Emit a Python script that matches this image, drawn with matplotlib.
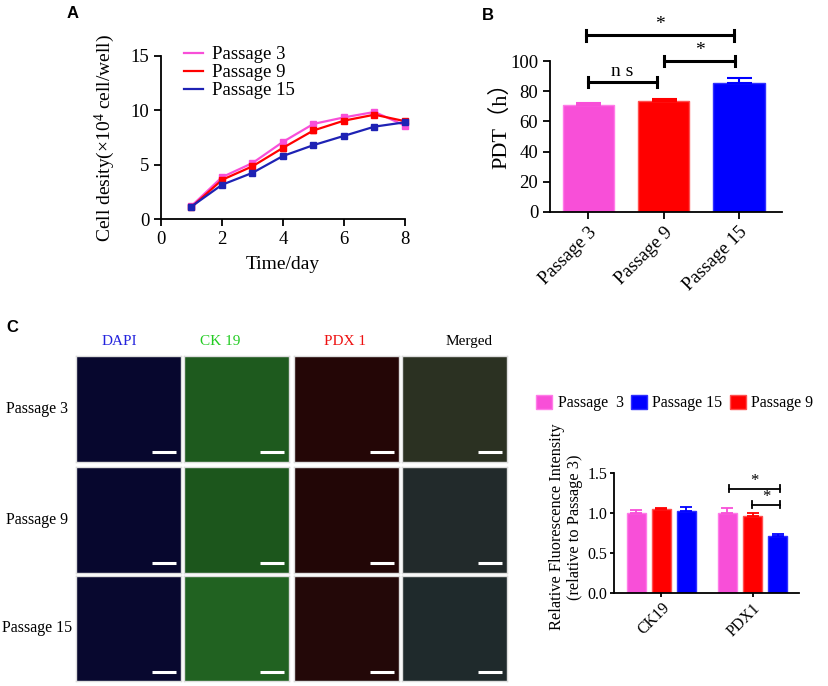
import numpy as np
import matplotlib
matplotlib.use("Agg")
import matplotlib.pyplot as plt
from matplotlib.patches import Patch
from matplotlib.lines import Line2D

plt.rcParams["font.family"] = ["Liberation Serif", "Noto Sans CJK SC", "DejaVu Sans"]
plt.rcParams["mathtext.fontset"] = "custom"
plt.rcParams["mathtext.rm"] = "Liberation Serif"
plt.rcParams["mathtext.it"] = "Liberation Serif:italic"

# -----------------------------------------------------------
# Data
# -----------------------------------------------------------
days = [1, 2, 3, 4, 5, 6, 7, 8]
p3_density = [1.2, 3.85, 5.15, 7.1, 8.75, 9.35, 9.85, 8.6]
p9_density = [1.1, 3.6, 4.85, 6.55, 8.15, 9.05, 9.6, 9.0]
p15_density = [1.15, 3.15, 4.25, 5.8, 6.8, 7.65, 8.5, 8.9]
p3_err = [0.1, 0.15, 0.15, 0.2, 0.15, 0.15, 0.15, 0.15]
p9_err = [0.1, 0.15, 0.15, 0.3, 0.25, 0.15, 0.15, 0.15]
p15_err = [0.1, 0.15, 0.15, 0.15, 0.2, 0.15, 0.15, 0.15]

pdt_labels = ["Passage 3", "Passage 9", "Passage 15"]
pdt_values = [71.0, 73.5, 85.5]
pdt_err = [1.5, 1.5, 3.5]

fl_markers = ["CK19", "PDX1"]
fl_p3 = [1.0, 1.0]
fl_p9 = [1.05, 0.965]
fl_p15 = [1.03, 0.717]
fl_p3_err = [0.035, 0.057]
fl_p9_err = [0.015, 0.03]
fl_p15_err = [0.047, 0.016]

stain_names = ["DAPI", "CK 19", "PDX 1", "Merged"]
row_names = ["Passage 3", "Passage 9", "Passage 15"]

# -----------------------------------------------------------
# Figure / helpers
# -----------------------------------------------------------
W, H = 829, 686
fig = plt.figure(figsize=(W / 100, H / 100), dpi=100)


def ax_px(l, t, r, b):
    return fig.add_axes([l / W, 1 - b / H, (r - l) / W, (b - t) / H])


def ftext(x, y, s, **kw):
    fig.text(x / W, 1 - y / H, s, **kw)


pink = "#F84FD8"
red = "#FF0000"
blue_line = "#1E22B4"
blue = "#0000FF"
bar_cols = [pink, red, blue]
bar_edges = ["#FF7BE8", "#FF5050", "#3030FF"]


def style_axes(ax, size):
    for side in ["top", "right"]:
        ax.spines[side].set_visible(False)
    for side in ["left", "bottom"]:
        ax.spines[side].set_linewidth(1.3)
    ax.tick_params(direction="out", width=1.3, length=5, labelsize=size)


def bracket(ax, x0, x1, y, h, txt, size, lw, dy):
    ax.plot([x0, x1], [y, y], color="black", lw=lw, clip_on=False)
    ax.plot([x0, x0], [y - h, y + h], color="black", lw=lw, clip_on=False)
    ax.plot([x1, x1], [y - h, y + h], color="black", lw=lw, clip_on=False)
    ax.text((x0 + x1) / 2, y + dy, txt, ha="center", va="bottom",
            fontsize=size, clip_on=False)


# -----------------------------------------------------------
# A - growth curves
# -----------------------------------------------------------
axA = ax_px(161, 56, 405, 219)
for vals, err, col in [(p3_density, p3_err, pink),
                       (p9_density, p9_err, red),
                       (p15_density, p15_err, blue_line)]:
    axA.errorbar(days, vals, yerr=err, color=col, lw=1.6, marker="s", ms=4,
                 capsize=2, elinewidth=1.2, clip_on=False)
axA.set_xlim(0, 8)
axA.set_ylim(0, 15)
axA.set_xticks([0, 2, 4, 6, 8])
axA.set_yticks([0, 5, 10, 15])
style_axes(axA, 13.5)
axA.set_xlabel("Time/day", fontsize=14, labelpad=6)
axA.set_ylabel("Cell desity(×10$^{4}$ cell/well)", fontsize=14, labelpad=10)
leg_h = [Line2D([0], [0], color=c, lw=1.6) for c in [pink, red, blue_line]]
axA.legend(leg_h, ["Passage 3", "Passage 9", "Passage 15"], loc="upper left",
           bbox_to_anchor=(0.094, 1.06), frameon=False, fontsize=13.5,
           handlelength=1.0, handletextpad=0.5, labelspacing=0.05,
           borderaxespad=0, borderpad=0)

# -----------------------------------------------------------
# B - population doubling time
# -----------------------------------------------------------
axB = ax_px(550, 61, 782, 212)
xb = np.arange(len(pdt_labels))
axB.bar(xb, pdt_values, width=0.68, color=bar_cols, edgecolor=bar_edges, lw=1)
for k in range(len(xb)):
    axB.errorbar(xb[k], pdt_values[k], yerr=[[0], [pdt_err[k]]], fmt="none",
                 ecolor=bar_cols[k], capsize=9, elinewidth=1.5, capthick=1.5)
axB.set_xlim(-0.51, 2.57)
axB.set_ylim(0, 100)
axB.set_yticks([0, 20, 40, 60, 80, 100])
axB.set_xticks(xb)
axB.set_xticklabels(pdt_labels, rotation=45, ha="right", rotation_mode="anchor")
style_axes(axB, 13.5)
ftext(501, 120, "PDT（h）", ha="center", va="center", rotation=90, fontsize=16)

bracket(axB, -0.01, 0.91, 86, 3.5, "n s", 14, 2.2, 1.5)
bracket(axB, 1.01, 1.95, 100, 3.5, "*", 14, 2.2, 1.5)
bracket(axB, -0.03, 1.93, 117, 3.5, "*", 14, 2.2, 1.5)

# -----------------------------------------------------------
# C - immunofluorescence panels
# -----------------------------------------------------------
col_px = [(76, 181), (184, 289), (294, 399), (402, 507)]
row_px = [(356, 462), (467, 573), (576, 681)]
img_colors = [
    ["#07072E", "#1E5A1E", "#240606", "#2B3122"],
    ["#07072E", "#1C561C", "#220606", "#222A2B"],
    ["#08082F", "#216221", "#230808", "#1F2A2C"],
]
head_colors = ["#2222DD", "#22CC22", "#EE1111", "black"]
head_x = [119, 220, 345, 469]
for j, name in enumerate(stain_names):
    ftext(head_x[j], 342, name, ha="center", va="center", fontsize=11,
          color=head_colors[j])
for i, rname in enumerate(row_names):
    t, b = row_px[i]
    ftext(37, (t + b) / 2, rname, ha="center", va="center", fontsize=11.5)
    for j in range(4):
        l, r = col_px[j]
        ai = ax_px(l, t, r, b)
        ai.set_facecolor(img_colors[i][j])
        ai.set_xticks([])
        ai.set_yticks([])
        for s in ai.spines.values():
            s.set_color("#DDDDDD")
            s.set_linewidth(1)
        ai.set_xlim(0, 1)
        ai.set_ylim(0, 1)
        ai.plot([0.72, 0.95], [0.09, 0.09], color="white", lw=2.2,
                solid_capstyle="butt")

# -----------------------------------------------------------
# C - fluorescence intensity bars
# -----------------------------------------------------------
axC = ax_px(614, 473, 799, 593)
xc = np.arange(len(fl_markers))
off = 0.275
wd = 0.21
for k, (dx, vals, err) in enumerate([(-off, fl_p3, fl_p3_err),
                                     (0, fl_p9, fl_p9_err),
                                     (off, fl_p15, fl_p15_err)]):
    axC.bar(xc + dx, vals, width=wd, color=bar_cols[k], edgecolor=bar_edges[k], lw=1)
    axC.errorbar(xc + dx, vals, yerr=[[0, 0], err], fmt="none",
                 ecolor=bar_cols[k], capsize=4, elinewidth=1.3, capthick=1.3)
axC.set_xlim(-0.52, 1.51)
axC.set_ylim(0, 1.5)
axC.set_yticks([0.0, 0.5, 1.0, 1.5])
axC.set_yticklabels(["0.0", "0.5", "1.0", "1.5"])
axC.set_xticks(xc)
axC.set_xticklabels(fl_markers, rotation=45, ha="right", rotation_mode="anchor")
style_axes(axC, 11.5)
axC.tick_params(length=3, pad=2)
bracket(axC, 0.742, 1.30, 1.305, 0.04, "*", 12, 1.3, 0.0)
bracket(axC, 0.995, 1.30, 1.106, 0.04, "*", 12, 1.3, 0.0)
ftext(566, 527, "Relative Fluorescence Intensity\n(relative to Passage 3)",
      ha="center", va="center", rotation=90, fontsize=11.8, linespacing=1.2)

leg_c = [Patch(facecolor=pink, edgecolor="#FF7BE8"),
         Patch(facecolor=blue, edgecolor="#3030FF"),
         Patch(facecolor=red, edgecolor="#FF5050")]
fig.legend(leg_c, ["Passage  3", "Passage 15", "Passage 9"],
           loc="center left", bbox_to_anchor=(536 / W, 1 - 403 / H),
           ncol=3, frameon=False, fontsize=11.5, handlelength=1.0,
           handleheight=1.0, handletextpad=0.35, columnspacing=0.45,
           borderaxespad=0, borderpad=0)

# -----------------------------------------------------------
# Panel letters
# -----------------------------------------------------------
for letter, x, y in [("A", 73, 14), ("B", 488, 15), ("C", 12, 328)]:
    ftext(x, y, letter, ha="center", va="center", fontsize=12,
          fontweight="bold", family="Liberation Sans")

fig.savefig("out.png", dpi=100)
